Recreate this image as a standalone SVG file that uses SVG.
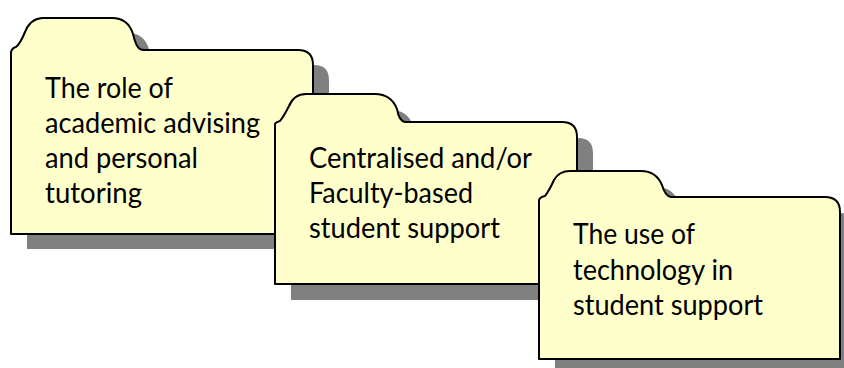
<svg xmlns="http://www.w3.org/2000/svg" width="844" height="368" viewBox="0 0 844 368">
<style>
.shadow{fill:#808080;stroke:none}
.folder{fill:#FFFFCC;stroke:#000;stroke-width:2;stroke-linejoin:round}
.lbl{font-family:Lato,"Liberation Sans",sans-serif;font-size:28px;fill:#000}
</style>
<rect width="844" height="368" fill="#fff"/>
<g id="folder1">
<path class="shadow" transform="translate(16,15)" d="M11,234 L11,52 Q12,48 16,47 Q20,44 25,32 Q30,19 42,18 L112,18 Q128,18 133,34 Q136,47 140,49 Q141,50 146,50 L298,50 Q313,50 313,65 L313,234 Z"/>
<path class="folder" d="M11,234 L11,52 Q12,48 16,47 Q20,44 25,32 Q30,19 42,18 L112,18 Q128,18 133,34 Q136,47 140,49 Q141,50 146,50 L298,50 Q313,50 313,65 L313,234 Z"/>
<text class="lbl" x="45" y="98" textLength="128" lengthAdjust="spacingAndGlyphs">The role of</text>
<text class="lbl" x="45" y="133" textLength="215" lengthAdjust="spacingAndGlyphs">academic advising</text>
<text class="lbl" x="45" y="168" textLength="153" lengthAdjust="spacingAndGlyphs">and personal</text>
<text class="lbl" x="45" y="203" textLength="97" lengthAdjust="spacingAndGlyphs">tutoring</text>
</g>
<g id="folder2">
<path class="shadow" transform="translate(16,16)" d="M275,284 L275,124 Q276,122 280,121 Q284,116 289,106 Q294,94 306,94 L375,94 Q391,94 397,109 Q399,121 405,122 L562,122 Q577,122 577,137 L577,284 Z"/>
<path class="folder" d="M275,284 L275,124 Q276,122 280,121 Q284,116 289,106 Q294,94 306,94 L375,94 Q391,94 397,109 Q399,121 405,122 L562,122 Q577,122 577,137 L577,284 Z"/>
<text class="lbl" x="309" y="168" textLength="223" lengthAdjust="spacingAndGlyphs">Centralised and/or</text>
<text class="lbl" x="309" y="203" textLength="164" lengthAdjust="spacingAndGlyphs">Faculty-based</text>
<text class="lbl" x="309" y="238" textLength="191" lengthAdjust="spacingAndGlyphs">student support</text>
</g>
<g id="folder3">
<path class="shadow" transform="translate(16,16)" d="M539,359 L539,200 Q540,197 545,196 Q549,191 554,180 Q559,171 570,171 L641,171 Q656,171 662,185 Q665,196 671,197 L825,197 Q840,197 840,212 L840,359 Z"/>
<path class="folder" d="M539,359 L539,200 Q540,197 545,196 Q549,191 554,180 Q559,171 570,171 L641,171 Q656,171 662,185 Q665,196 671,197 L825,197 Q840,197 840,212 L840,359 Z"/>
<text class="lbl" x="573" y="244" textLength="122" lengthAdjust="spacingAndGlyphs">The use of</text>
<text class="lbl" x="573" y="280" textLength="160" lengthAdjust="spacingAndGlyphs">technology in</text>
<text class="lbl" x="573" y="315" textLength="190" lengthAdjust="spacingAndGlyphs">student support</text>
</g>
<g id="connectors"></g>
</svg>
